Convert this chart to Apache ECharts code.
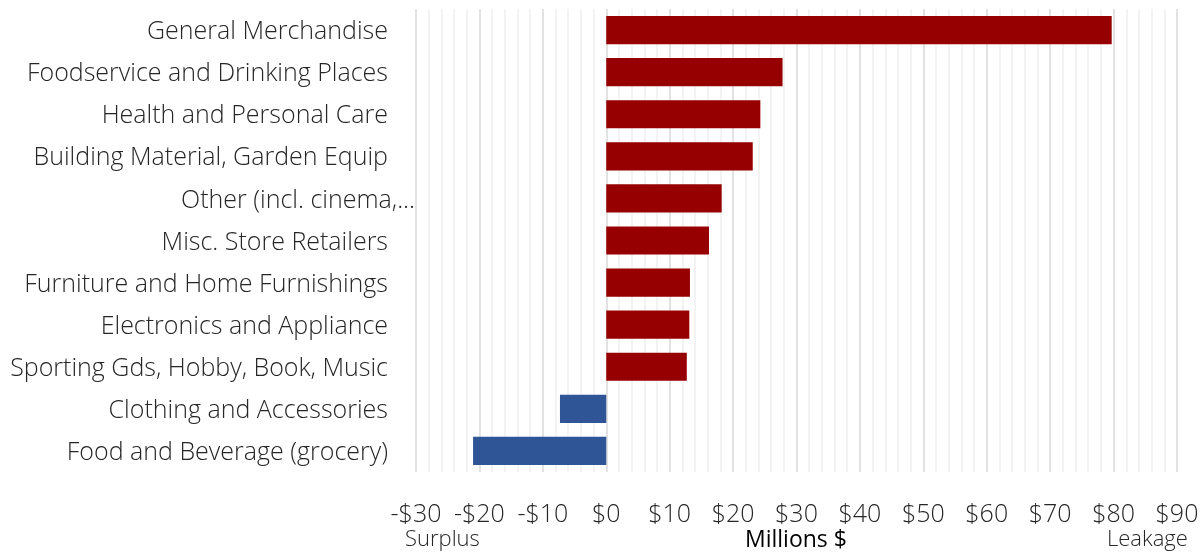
<!DOCTYPE html>
<html>
<head>
<meta charset="utf-8">
<script src="https://cdn.jsdelivr.net/npm/echarts@6/dist/echarts.min.js"></script>
<style>
html,body{margin:0;padding:0;background:#fff;}
#chart{width:1203px;height:554px;}
</style>
</head>
<body>
<div id="chart"></div>
<script>
var categories = [
  "General Merchandise",
  "Foodservice and Drinking Places",
  "Health and Personal Care",
  "Building Material, Garden Equip",
  "Other (incl. cinema,...",
  "Misc. Store Retailers",
  "Furniture and Home Furnishings",
  "Electronics and Appliance",
  "Sporting Gds, Hobby, Book, Music",
  "Clothing and Accessories",
  "Food and Beverage (grocery)"
];
var values = [79.7, 27.8, 24.3, 23.1, 18.2, 16.2, 13.2, 13.1, 12.7, -7.3, -21.0];
var xTicks = [-30, -20, -10, 0, 10, 20, 30, 40, 50, 60, 70, 80, 90];

var FONT = "'Open Sans', 'Noto Sans', sans-serif";
var TXT = '#262626';
var chart = echarts.init(document.getElementById('chart'));
chart.setOption({
  backgroundColor: '#fff',
  animation: false,
  grid: { left: 416, right: 26, top: 9, bottom: 82, containLabel: false },
  xAxis: {
    type: 'value',
    min: xTicks[0],
    max: xTicks[xTicks.length - 1],
    interval: 10,
    axisLine: { show: false },
    axisTick: { show: false },
    splitLine: { show: true, lineStyle: { color: '#d9d9d9', width: 1.5 } },
    minorTick: { show: false, splitNumber: 5 },
    minorSplitLine: { show: true, lineStyle: { color: '#efefef', width: 1.5 } },
    axisLabel: {
      margin: 30,
      color: TXT,
      fontFamily: FONT,
      fontWeight: 300,
      fontSize: 25,
      formatter: function (v) { return v < 0 ? '-$' + Math.abs(v) : '$' + v; }
    }
  },
  yAxis: {
    type: 'category',
    inverse: true,
    data: categories,
    axisLine: { show: false },
    axisTick: { show: false },
    splitLine: { show: false },
    axisLabel: {
      margin: 1,
      color: TXT,
      fontFamily: FONT,
      fontWeight: 300,
      fontSize: 25,
      formatter: function (v) {
        return v.indexOf('...') >= 0 ? '{o|' + v + '}' : '{n|' + v + '}';
      },
      rich: {
        n: { padding: [4, 27, 0, 0], color: TXT, fontFamily: FONT, fontWeight: 300, fontSize: 25 },
        o: { padding: [4, 0, 0, 0], color: TXT, fontFamily: FONT, fontWeight: 300, fontSize: 25 }
      }
    }
  },
  series: [{
    type: 'bar',
    data: values,
    barCategoryGap: '33%',
    itemStyle: {
      color: function (p) { return p.value < 0 ? '#2f5597' : '#960000'; }
    }
  }],
  graphic: [
    { type: 'text', left: 405, top: 529, style: { text: 'Surplus', fill: TXT, font: '300 22px ' + FONT } },
    { type: 'text', left: 745, top: 529, style: { text: 'Millions $', fill: '#000', font: '400 23px ' + FONT } },
    { type: 'text', left: 1107, top: 529, style: { text: 'Leakage', fill: TXT, font: '300 22px ' + FONT } }
  ]
});
</script>
</body>
</html>
